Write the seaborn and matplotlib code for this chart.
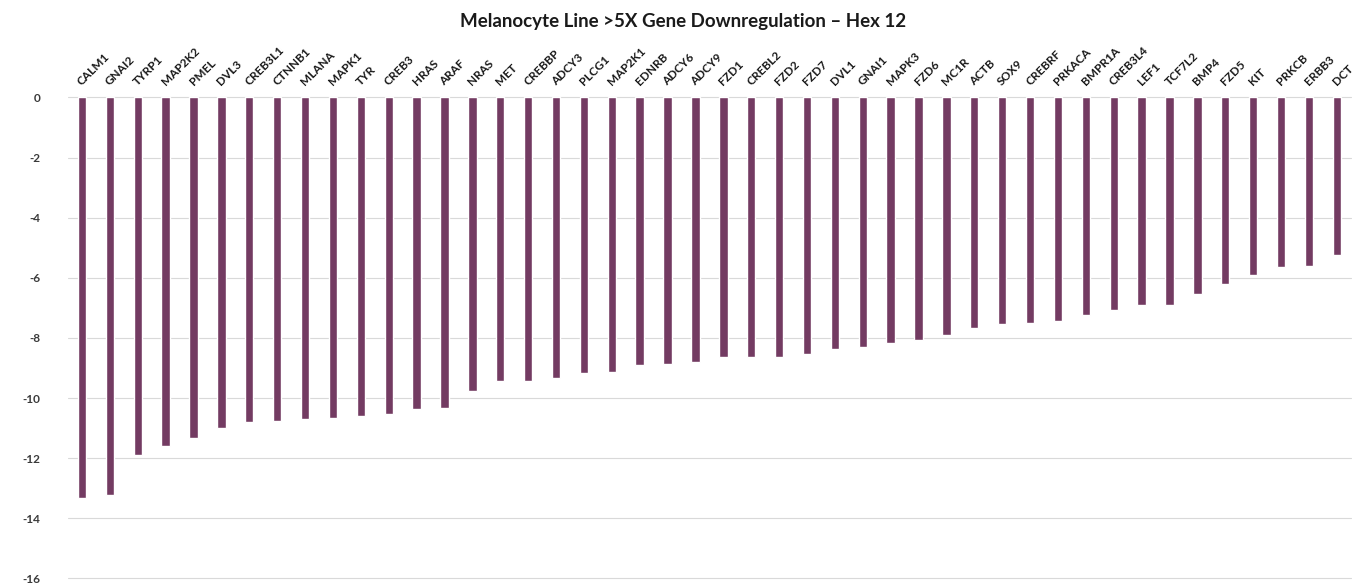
import matplotlib
matplotlib.use('Agg')
import matplotlib.pyplot as plt
import seaborn as sns
import pandas as pd

# Genes and log-fold change
genes = [
    'CALM1', 'GNAI2', 'TYRP1', 'MAP2K2', 'PMEL', 'DVL3', 'CREB3L1', 'CTNNB1',
    'MLANA', 'MAPK1', 'TYR', 'CREB3', 'HRAS', 'ARAF', 'NRAS', 'MET',
    'CREBBP', 'ADCY3', 'PLCG1', 'MAP2K1', 'EDNRB', 'ADCY6', 'ADCY9', 'FZD1',
    'CREBL2', 'FZD2', 'FZD7', 'DVL1', 'GNAI1', 'MAPK3', 'FZD6', 'MC1R',
    'ACTB', 'SOX9', 'CREBRF', 'PRKACA', 'BMPR1A', 'CREB3L4', 'LEF1', 'TCF7L2',
    'BMP4', 'FZD5', 'KIT', 'PRKCB', 'ERBB3', 'DCT',
]
fold_change = [
    -13.32, -13.24, -11.90, -11.61, -11.34, -10.98, -10.81, -10.77,
    -10.69, -10.65, -10.60, -10.53, -10.37, -10.33, -9.76, -9.44,
    -9.44, -9.32, -9.16, -9.12, -8.91, -8.88, -8.80, -8.63,
    -8.63, -8.63, -8.55, -8.36, -8.31, -8.16, -8.07, -7.90,
    -7.67, -7.55, -7.50, -7.42, -7.23, -7.06, -6.89, -6.89,
    -6.53, -6.21, -5.92, -5.64, -5.60, -5.23,
]
y_ticks = [0, -2, -4, -6, -8, -10, -12, -14, -16]

df = pd.DataFrame({'gene': genes, 'value': fold_change})

sns.set_style('white')
plt.rcParams['font.family'] = ['Lato', 'DejaVu Sans']

fig = plt.figure(figsize=(13.53, 5.84), dpi=100)
ax = fig.add_axes([0.0503, 0.0095, 0.948, 0.8236])

sns.barplot(data=df, x='gene', y='value', color='#733b62', width=0.3,
            saturation=1, ax=ax)

ax.set_ylim(-16, 0)
ax.set_xlim(-0.5, len(genes) - 0.5)
ax.set_yticks(y_ticks)
ax.set_yticklabels([str(t) for t in y_ticks], fontsize=8.5, fontweight='bold',
                   color='#3a3a3a')
ax.yaxis.grid(True, color='#d9d9d9', linewidth=0.8)
for gl in ax.get_ygridlines():
    gl.set_clip_on(False)
ax.set_axisbelow(True)
for s in ax.spines.values():
    s.set_visible(False)

# gene names along the top, slanted
ax.xaxis.tick_top()
ax.set_xticks(range(len(genes)))
ax.set_xticklabels(genes, rotation=45, ha='left', va='baseline',
                   rotation_mode='anchor', fontsize=8.5, fontweight='bold',
                   color='#1a1a1a')
ax.tick_params(axis='x', length=0, pad=8)
ax.tick_params(axis='y', length=0, pad=20)
ax.set_xlabel('')
ax.set_ylabel('')

fig.suptitle('Melanocyte Line >5X Gene Downregulation \u2013 Hex 12',
             x=0.505, y=0.978, fontsize=13.5, fontweight='bold', color='#1a1a1a')

fig.savefig('out.png', dpi=100)
